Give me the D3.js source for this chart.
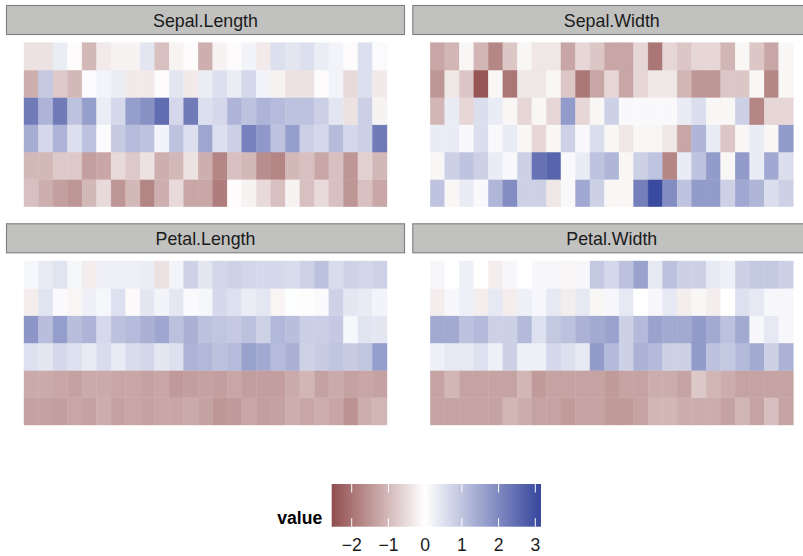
<!DOCTYPE html>
<html><head><meta charset="utf-8">
<script src="https://cdn.jsdelivr.net/npm/d3@7"></script>
<style>
body{margin:0;background:#fff}
svg{display:block}
text{font-family:"Liberation Sans",Arial,Helvetica,sans-serif}
</style>
</head><body><svg id="chart" width="803" height="556"></svg>
<script>
// facet names
const variables = ["Sepal.Length","Sepal.Width","Petal.Length","Petal.Width"];

// measurements, observation 1..150
const sepalLength = [5.1,4.9,4.7,4.6,5.0,5.4,4.6,5.0,4.4,4.9,5.4,4.8,4.8,4.3,5.8,5.7,5.4,5.1,5.7,5.1,5.4,5.1,4.6,5.1,4.8,5.0,5.0,5.2,5.2,4.7,4.8,5.4,5.2,5.5,4.9,5.0,5.5,4.9,4.4,5.1,5.0,4.5,4.4,5.0,5.1,4.8,5.1,4.6,5.3,5.0,7.0,6.4,6.9,5.5,6.5,5.7,6.3,4.9,6.6,5.2,5.0,5.9,6.0,6.1,5.6,6.7,5.6,5.8,6.2,5.6,5.9,6.1,6.3,6.1,6.4,6.6,6.8,6.7,6.0,5.7,5.5,5.5,5.8,6.0,5.4,6.0,6.7,6.3,5.6,5.5,5.5,6.1,5.8,5.0,5.6,5.7,5.7,6.2,5.1,5.7,6.3,5.8,7.1,6.3,6.5,7.6,4.9,7.3,6.7,7.2,6.5,6.4,6.8,5.7,5.8,6.4,6.5,7.7,7.7,6.0,6.9,5.6,7.7,6.3,6.7,7.2,6.2,6.1,6.4,7.2,7.4,7.9,6.4,6.3,6.1,7.7,6.3,6.4,6.0,6.9,6.7,6.9,5.8,6.8,6.7,6.7,6.3,6.5,6.2,5.9];
const sepalWidth = [3.5,3.0,3.2,3.1,3.6,3.9,3.4,3.4,2.9,3.1,3.7,3.4,3.0,3.0,4.0,4.4,3.9,3.5,3.8,3.8,3.4,3.7,3.6,3.3,3.4,3.0,3.4,3.5,3.4,3.2,3.1,3.4,4.1,4.2,3.1,3.2,3.5,3.6,3.0,3.4,3.5,2.3,3.2,3.5,3.8,3.0,3.8,3.2,3.7,3.3,3.2,3.2,3.1,2.3,2.8,2.8,3.3,2.4,2.9,2.7,2.0,3.0,2.2,2.9,2.9,3.1,3.0,2.7,2.2,2.5,3.2,2.8,2.5,2.8,2.9,3.0,2.8,3.0,2.9,2.6,2.4,2.4,2.7,2.7,3.0,3.4,3.1,2.3,3.0,2.5,2.6,3.0,2.6,2.3,2.7,3.0,2.9,2.9,2.5,2.8,3.3,2.7,3.0,2.9,3.0,3.0,2.5,2.9,2.5,3.6,3.2,2.7,3.0,2.5,2.8,3.2,3.0,3.8,2.6,2.2,3.2,2.8,2.8,2.7,3.3,3.2,2.8,3.0,2.8,3.0,2.8,3.8,2.8,2.8,2.6,3.0,3.4,3.1,3.0,3.1,3.1,3.1,2.7,3.2,3.3,3.0,2.5,3.0,3.4,3.0];
const petalLength = [1.4,1.4,1.3,1.5,1.4,1.7,1.4,1.5,1.4,1.5,1.5,1.6,1.4,1.1,1.2,1.5,1.3,1.4,1.7,1.5,1.7,1.5,1.0,1.7,1.9,1.6,1.6,1.5,1.4,1.6,1.6,1.5,1.5,1.4,1.5,1.2,1.3,1.4,1.3,1.5,1.3,1.3,1.3,1.6,1.9,1.4,1.6,1.4,1.5,1.4,4.7,4.5,4.9,4.0,4.6,4.5,4.7,3.3,4.6,3.9,3.5,4.2,4.0,4.7,3.6,4.4,4.5,4.1,4.5,3.9,4.8,4.0,4.9,4.7,4.3,4.4,4.8,5.0,4.5,3.5,3.8,3.7,3.9,5.1,4.5,4.5,4.7,4.4,4.1,4.0,4.4,4.6,4.0,3.3,4.2,4.2,4.2,4.3,3.0,4.1,6.0,5.1,5.9,5.6,5.8,6.6,4.5,6.3,5.8,6.1,5.1,5.3,5.5,5.0,5.1,5.3,5.5,6.7,6.9,5.0,5.7,4.9,6.7,4.9,5.7,6.0,4.8,4.9,5.6,5.8,6.1,6.4,5.6,5.1,5.6,6.1,5.6,5.5,4.8,5.4,5.6,5.1,5.1,5.9,5.7,5.2,5.0,5.2,5.4,5.1];
const petalWidth = [0.2,0.2,0.2,0.2,0.2,0.4,0.3,0.2,0.2,0.1,0.2,0.2,0.1,0.1,0.2,0.4,0.4,0.3,0.3,0.3,0.2,0.4,0.2,0.5,0.2,0.2,0.4,0.2,0.2,0.2,0.2,0.4,0.1,0.2,0.2,0.2,0.2,0.1,0.2,0.2,0.3,0.3,0.2,0.6,0.4,0.3,0.2,0.2,0.2,0.2,1.4,1.5,1.5,1.3,1.5,1.3,1.6,1.0,1.3,1.4,1.0,1.5,1.0,1.4,1.3,1.4,1.5,1.0,1.5,1.1,1.8,1.3,1.5,1.2,1.3,1.4,1.4,1.7,1.5,1.0,1.1,1.0,1.2,1.6,1.5,1.6,1.5,1.3,1.3,1.3,1.2,1.4,1.2,1.0,1.3,1.2,1.3,1.3,1.1,1.3,2.5,1.9,2.1,1.8,2.2,2.1,1.7,1.8,1.8,2.5,2.0,1.9,2.1,2.0,2.4,2.3,1.8,2.2,2.3,1.5,2.3,2.0,2.0,1.8,2.1,1.8,1.8,1.8,2.1,1.6,1.9,2.0,2.2,1.5,1.4,2.3,2.4,1.8,1.8,2.1,2.4,2.3,1.9,2.3,2.5,2.3,1.9,2.0,2.3,1.8];

// observation number shown in each tile, bottom row first, left to right (25 per row)
const tileOrder = [
  1,2,3,4,5,6,7,8,9,10,11,12,13,14,15,16,17,18,19,20,21,22,23,24,25,
  26,27,28,29,30,31,32,33,34,35,36,37,38,39,40,41,42,43,44,45,46,47,48,49,50,
  51,52,53,57,66,71,76,77,78,86,87,101,103,104,105,106,108,109,110,111,112,113,116,117,118,
  119,121,123,125,126,128,129,130,131,132,133,136,137,138,140,141,142,144,145,146,148,149,54,55,56,
  58,59,60,61,62,63,64,65,67,68,69,70,72,73,74,75,79,80,81,82,83,84,85,88,89,
  90,91,92,93,94,95,96,97,98,99,100,102,107,114,115,120,122,124,127,134,135,139,143,147,150
];
const legendTicks = [-2,-1,0,1,2,3];
const legendTitle = "value";

const series = [sepalLength, sepalWidth, petalLength, petalWidth];
const nCols = 25, nRows = 6;

// standardised values (as in scale())
const scaled = series.map(arr => {
  const m = d3.mean(arr), s = d3.deviation(arr);
  return arr.map(v => (v - m) / s);
});
const allVals = scaled.flat();
const maxAbs = d3.max(allVals, v => Math.abs(v));

const color = d3.scaleLinear()
  .domain([-maxAbs, 0, maxAbs])
  .range(["#7a2828", "#ffffff", "#3a4a9e"])
  .interpolate(d3.interpolateRgb)
  .clamp(true);

const svg = d3.select("#chart");

// facet layout
const stripW = 399, stripH = 30;
const facetLeft = d3.scaleOrdinal().domain([0,1]).range([6, 412.3]);
const facetTop = d3.scaleOrdinal().domain([0,1]).range([5, 223.3]);

variables.forEach((name, i) => {
  const fc = i % 2, fr = Math.floor(i / 2);
  const L = facetLeft(fc), T = facetTop(fr);
  const g = svg.append("g");

  const x = d3.scaleBand().domain(d3.range(nCols)).range([L + 18, L + 18 + 363]);
  const y = d3.scaleBand().domain(d3.range(nRows)).range([T + 37.7, T + 37.7 + 164]);

  const tiles = tileOrder.map((obs, k) => ({
    col: k % nCols,
    row: nRows - 1 - Math.floor(k / nCols),
    value: scaled[i][obs - 1]
  }));

  g.selectAll("rect.tile").data(tiles).join("rect")
    .attr("class", "tile")
    .attr("x", d => x(d.col))
    .attr("y", d => y(d.row))
    .attr("width", x.bandwidth())
    .attr("height", y.bandwidth())
    .attr("fill", d => color(d.value))
    .attr("stroke", d => color(d.value))
    .attr("stroke-width", 0.4);

  g.append("rect")
    .attr("x", L + 0.5).attr("y", T + 0.5)
    .attr("width", stripW - 1).attr("height", stripH - 1)
    .attr("fill", "#c1c2c0")
    .attr("stroke", "#7d7d7d")
    .attr("stroke-width", 1.1);

  g.append("text")
    .attr("x", L + stripW / 2)
    .attr("y", T + 21.6)
    .attr("text-anchor", "middle")
    .attr("font-size", 17.8)
    .attr("fill", "#1a1a1a")
    .text(name);
});

// legend colourbar
const barX0 = 331.7, barX1 = 541, barY0 = 484, barY1 = 526.7;
const lx = d3.scaleLinear().domain([-2.545, 3.155]).range([barX0, barX1]);

const defs = svg.append("defs");
const grad = defs.append("linearGradient").attr("id", "cbar")
  .attr("x1", "0%").attr("x2", "100%").attr("y1", "0%").attr("y2", "0%");
const stops = d3.range(0, 61).map(j => j / 60);
grad.selectAll("stop").data(stops).join("stop")
  .attr("offset", t => (t * 100) + "%")
  .attr("stop-color", t => color(lx.invert(barX0 + t * (barX1 - barX0))));

svg.append("rect")
  .attr("x", barX0).attr("y", barY0)
  .attr("width", barX1 - barX0).attr("height", barY1 - barY0)
  .attr("fill", "url(#cbar)");

const tickLen = (barY1 - barY0) * 0.2;
const tg = svg.append("g");
legendTicks.forEach(t => {
  tg.append("line").attr("x1", lx(t)).attr("x2", lx(t))
    .attr("y1", barY0).attr("y2", barY0 + tickLen)
    .attr("stroke", "#ffffff").attr("stroke-width", 1);
  tg.append("line").attr("x1", lx(t)).attr("x2", lx(t))
    .attr("y1", barY1 - tickLen).attr("y2", barY1)
    .attr("stroke", "#ffffff").attr("stroke-width", 1);
});

svg.append("g").selectAll("text").data(legendTicks).join("text")
  .attr("x", d => lx(d))
  .attr("y", 551)
  .attr("text-anchor", "middle")
  .attr("font-size", 17.6)
  .attr("fill", "#1a1a1a")
  .text(d => d < 0 ? "\u2212" + Math.abs(d) : String(d));

svg.append("text")
  .attr("x", 322.3)
  .attr("y", 523.5)
  .attr("text-anchor", "end")
  .attr("font-size", 17.6)
  .attr("font-weight", "bold")
  .attr("fill", "#000")
  .text(legendTitle);
</script>
</body></html>
